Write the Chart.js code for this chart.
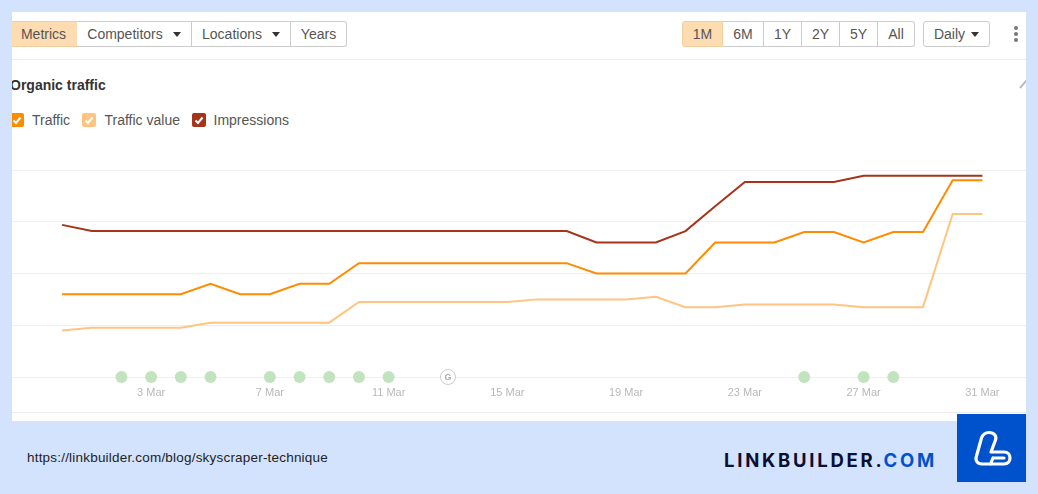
<!DOCTYPE html>
<html>
<head>
<meta charset="utf-8">
<script src="https://cdn.jsdelivr.net/npm/chart.js@4"></script>
<style>
	html, body { margin: 0; padding: 0; width: 1038px; height: 494px; overflow: hidden; background: #d3e3fd; font-family: "Liberation Sans", Arial, sans-serif; }
	.panel { position: absolute; left: 12px; top: 12px; width: 1014px; height: 409px; background: #fff; overflow: hidden; }
	.rule { position: absolute; left: 0; width: 1014px; height: 1px; background: #ececec; }
	.btn { position: absolute; top: 9px; height: 24px; border: 1px solid #ccc; border-left-width: 0; box-sizing: content-box; background: #fff; color: #555; font-size: 14px; line-height: 24px; text-align: center; }
	.btn.first { border-left-width: 1px; border-radius: 3px 0 0 3px; }
	.btn.last { border-radius: 0 3px 3px 0; }
	.btn.on { background: #fddcb2; border-color: #f3cfa0; }
	.btn i { display: inline-block; width: 0; height: 0; border: 4.5px solid transparent; border-top: 5px solid #333; border-bottom-width: 0; margin-left: 10px; vertical-align: 2px; }
	.title { position: absolute; left: -2px; top: 65px; font-size: 14px; font-weight: bold; color: #333; line-height: 16px; }
	.box { position: absolute; top: 101px; width: 14px; height: 14px; border-radius: 2px; }
	.box svg { position: absolute; left: 0; top: 0; }
	.lbl { position: absolute; top: 100px; font-size: 14px; line-height: 16px; color: #555; }
	.menu { position: absolute; left: 1002px; width: 4px; height: 4px; border-radius: 50%; background: #777; }
	#chartWrap { position: absolute; left: 0; top: 148px; width: 1014px; height: 252px; }
	.url { position: absolute; left: 27px; top: 450px; font-size: 13.5px; letter-spacing: 0.2px; line-height: 16px; color: #222; }
	.brand { position: absolute; left: 724px; top: 448px; font-family: Inter, sans-serif; font-weight: 700; font-size: 18.5px; letter-spacing: 2.75px; line-height: 24px; color: #0a0f33; white-space: nowrap; }
	.brand span { color: #0052cc; }
	.logo { position: absolute; left: 957px; top: 414px; width: 69px; height: 68px; background: #0052cc; }
</style>
</head>
<body>
<div class="panel">
	<div class="btn first on" style="left:-3px;width:67px">Metrics</div>
	<div class="btn" style="left:65px;width:114px">Competitors<i></i></div>
	<div class="btn" style="left:180px;width:98px">Locations<i></i></div>
	<div class="btn last" style="left:279px;width:55px">Years</div>

	<div class="btn first on" style="left:670px;width:39px">1M</div>
	<div class="btn" style="left:711px;width:40px">6M</div>
	<div class="btn" style="left:752px;width:37px">1Y</div>
	<div class="btn" style="left:790px;width:37px">2Y</div>
	<div class="btn" style="left:828px;width:37px">5Y</div>
	<div class="btn last" style="left:866px;width:36px">All</div>
	<div class="btn first last" style="left:911px;width:65px;border-radius:3px">Daily<i style="margin-left:6px"></i></div>
	<div class="menu" style="top:14px"></div>
	<div class="menu" style="top:20px"></div>
	<div class="menu" style="top:26px"></div>

	<div class="rule" style="top:47px"></div>
	<div class="title">Organic traffic</div>
	<svg style="position:absolute;left:1007px;top:67px" width="10" height="12"><path d="M1 9 L7 2 L12 8" fill="none" stroke="#bbb" stroke-width="2"/></svg>
	<div id="legend"></div>
	<div id="chartWrap"><canvas id="chart" width="1014" height="252"></canvas></div>
	<div class="rule" style="top:400px"></div>
</div>
<div class="url">https://linkbuilder.com/blog/skyscraper-technique</div>
<div class="brand">LINKBUILDER.<span>COM</span></div>
<div class="logo">
	<svg width="69" height="68" viewBox="0 0 69 68"><path d="M24.5 24 C26 20 29 18.5 32 18.5 C37 18.5 40 22 38.5 26 L34 38 L47 38 C55 38 55 50 47 50 L25 50 C20 50 18 46 19.5 42 Z M36 44 L33.5 50 M36 44 L47 44" fill="none" stroke="#fff" stroke-width="3.2" stroke-linecap="round" stroke-linejoin="round"/></svg>
</div>

<script>
const categories = ['29 Feb', '1 Mar', '2 Mar', '3 Mar', '4 Mar', '5 Mar', '6 Mar', '7 Mar', '8 Mar', '9 Mar', '10 Mar', '11 Mar', '12 Mar', '13 Mar', '14 Mar', '15 Mar', '16 Mar', '17 Mar', '18 Mar', '19 Mar', '20 Mar', '21 Mar', '22 Mar', '23 Mar', '24 Mar', '25 Mar', '26 Mar', '27 Mar', '28 Mar', '29 Mar', '30 Mar', '31 Mar'];
const tickLabels = ['3 Mar', '7 Mar', '11 Mar', '15 Mar', '19 Mar', '23 Mar', '27 Mar', '31 Mar'];

const traffic = [160, 160, 160, 160, 160, 180, 160, 160, 180, 180, 220, 220, 220, 220, 220, 220, 220, 220, 200, 200, 200, 200, 260, 260, 260, 280, 280, 260, 280, 280, 380, 380];
const trafficValue = [90, 95, 95, 95, 95, 105, 105, 105, 105, 105, 145, 145, 145, 145, 145, 145, 150, 150, 150, 150, 155, 135, 135, 140, 140, 140, 140, 135, 135, 135, 315, 315];
const impressions = [294, 282, 282, 282, 282, 282, 282, 282, 282, 282, 282, 282, 282, 282, 282, 282, 282, 282, 260, 260, 260, 282, 330, 377, 377, 377, 377, 389, 389, 389, 389, 389];

const updateDays = ['2 Mar', '3 Mar', '4 Mar', '5 Mar', '7 Mar', '8 Mar', '9 Mar', '10 Mar', '11 Mar', '25 Mar', '27 Mar', '28 Mar'];
const googleDays = ['13 Mar'];

const legendItems = [
	{ text: 'Traffic', color: '#ff8c00', box: -2, label: 20 },
	{ text: 'Traffic value', color: '#ffc480', box: 70, label: 92.5 },
	{ text: 'Impressions', color: '#a5341a', box: 180, label: 201.5 }
];

const legend = document.querySelector('#legend');
legendItems.forEach(item => {
	let box = document.createElement('div');
	box.className = 'box';
	box.style.left = item.box + 'px';
	box.style.background = item.color;
	box.innerHTML = '<svg width="14" height="14"><path d="M3.5 7.5 L6 10 L10.5 4.5" fill="none" stroke="#fff" stroke-width="2"/></svg>';
	legend.appendChild(box);

	let label = document.createElement('div');
	label.className = 'lbl';
	label.style.left = item.label + 'px';
	label.textContent = item.text;
	legend.appendChild(label);
});

const toPoints = values => values.map((v, i) => ({ x: i, y: v }));
const toMarkers = days => days.map(d => ({ x: categories.indexOf(d), y: 0 }));

function lineSet(label, values, color) {
	return { label, data: toPoints(values), borderColor: color, borderWidth: 2, pointRadius: 0, tension: 0, fill: false };
}

// the little G in the google update marker
const googleLetter = {
	id: 'googleLetter',
	afterDatasetsDraw(chart) {
		const { ctx, scales } = chart;
		ctx.save();
		ctx.font = 'bold 9px "Liberation Sans"';
		ctx.fillStyle = '#aaa';
		ctx.textAlign = 'center';
		ctx.textBaseline = 'middle';
		googleDays.forEach(d => {
			ctx.fillText('G', scales.x.getPixelForValue(categories.indexOf(d)), scales.y.getPixelForValue(0) + 0.5);
		});
		ctx.restore();
	}
};

new Chart(document.querySelector('#chart').getContext('2d'), {
	type: 'line',
	data: {
		datasets: [
			{ label: 'Updates', data: toMarkers(updateDays), showLine: false, pointRadius: 6, pointBackgroundColor: '#c1e3bd', pointBorderWidth: 0, clip: false },
			{ label: 'Google', data: toMarkers(googleDays), showLine: false, pointRadius: 7.5, pointBackgroundColor: '#fff', pointBorderColor: '#ccc', pointBorderWidth: 1, clip: false },
			lineSet('Traffic value', trafficValue, '#ffc480'),
			lineSet('Traffic', traffic, '#ff8c00'),
			lineSet('Impressions', impressions, '#a5341a')
		]
	},
	plugins: [googleLetter],
	options: {
		responsive: false,
		animation: false,
		layout: { autoPadding: false, padding: { top: 10, left: 0, right: 0, bottom: 0 } },
		plugins: { legend: { display: false }, tooltip: { enabled: false } },
		scales: {
			x: {
				type: 'linear',
				min: -1.686,
				max: 32.47,
				grid: { display: false },
				border: { display: false },
				afterBuildTicks: scale => {
					scale.ticks = tickLabels.map(t => ({ value: categories.indexOf(t) }));
				},
				afterFit: scale => { scale.height = 35; },
				ticks: {
					callback: value => categories[value],
					maxRotation: 0,
					autoSkip: false,
					padding: 1,
					color: '#b8b8b8',
					font: { family: '"Liberation Sans"', size: 11 }
				}
			},
			y: {
				min: 0,
				max: 400,
				afterFit: scale => { scale.width = 0; },
				grid: { color: '#efefef', lineWidth: 1, drawTicks: false },
				border: { display: false },
				ticks: { display: false, stepSize: 100 }
			}
		}
	}
});
</script>
</body>
</html>
